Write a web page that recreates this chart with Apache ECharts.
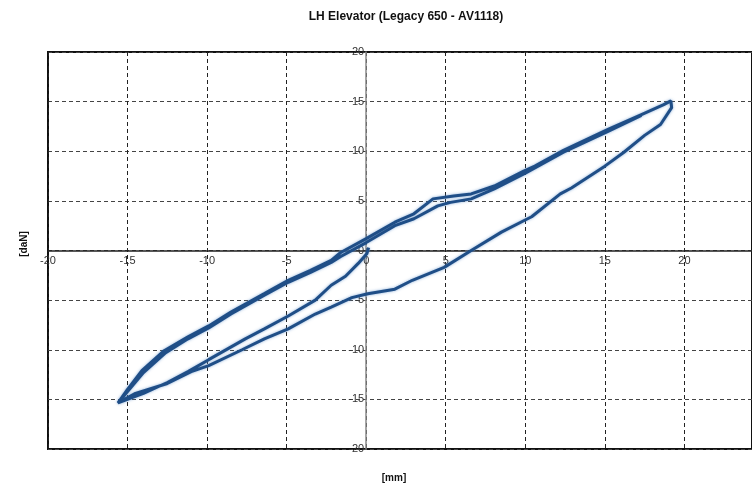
<!DOCTYPE html>
<html>
<head>
<meta charset="utf-8">
<script src="https://cdn.jsdelivr.net/npm/echarts@6/dist/echarts.min.js"></script>
<style>
  html, body { margin: 0; padding: 0; background: #fff; }
  #chart { width: 752px; height: 485px; }
</style>
</head>
<body>
<div id="chart"></div>
<script>
// [mm, daN]
// first move, origin down to the negative end
var startDown = [
  [0.15, 0.3], [0.05, -0.3], [-0.5, -1.3], [-1.3, -2.6], [-2.2, -3.5], [-3.2, -5.0],
  [-4.9, -6.6], [-6.4, -7.9], [-7.6, -8.9], [-9.9, -11.0], [-11.2, -12.2],
  [-12.5, -13.3], [-14.0, -14.4], [-15.6, -15.35]
];
// upper branch, negative end to positive end
var upperPass1 = [
  [-15.6, -15.35], [-15.0, -14.0], [-14.1, -12.1], [-12.7, -10.1], [-11.2, -8.7],
  [-9.9, -7.6], [-8.5, -6.2], [-6.4, -4.35], [-4.9, -3.0], [-3.5, -2.0], [-2.2, -1.0],
  [-1.6, -0.2], [0.0, 1.2], [1.8, 2.85], [3.0, 3.7], [4.2, 5.2], [5.5, 5.5],
  [6.6, 5.7], [8.05, 6.5], [9.9, 8.0], [10.6, 8.5], [12.4, 10.1], [15.2, 12.2],
  [17.3, 13.7], [18.7, 14.7], [19.15, 15.08]
];
// return branch, positive end back to negative end
var lowerReturn = [
  [19.15, 15.08], [19.2, 14.4], [18.5, 12.7], [17.5, 11.6], [16.2, 9.9], [15.0, 8.5],
  [12.9, 6.3], [12.2, 5.7], [10.4, 3.4], [9.9, 3.0], [8.5, 1.85], [6.6, 0.0],
  [4.9, -1.7], [2.9, -3.0], [1.8, -3.9], [0.1, -4.35], [-0.9, -4.75], [-2.2, -5.7],
  [-3.2, -6.4], [-4.9, -7.9], [-6.4, -8.9], [-7.8, -10.0], [-9.9, -11.6],
  [-11.0, -12.2], [-12.5, -13.4], [-14.5, -14.4], [-15.6, -15.35]
];
// second climb on the upper branch
var upperPass2 = [
  [-15.6, -15.35], [-15.0, -14.2], [-14.0, -12.3], [-12.6, -10.3], [-11.2, -8.9],
  [-9.9, -7.8], [-8.5, -6.4], [-6.4, -4.5], [-4.9, -3.2], [-3.5, -2.2], [-2.2, -1.2],
  [-1.6, -0.6], [0.0, 0.8], [1.8, 2.5], [3.0, 3.2], [4.5, 4.5], [5.3, 4.85],
  [6.6, 5.2], [8.05, 6.2], [10.0, 7.8], [12.4, 9.9], [15.2, 12.0], [17.3, 13.6]
];

var xTicks = { min: -20, max: 24.25, step: 5 };
var yTicks = { min: -20, max: 20, step: 5 };

var loop = startDown.concat(upperPass1, lowerReturn, upperPass2);

var myChart = echarts.init(document.getElementById('chart'));
var font = 'Liberation Sans, Arial, sans-serif';

// plot box
var gLeft = 48, gTop = 52, gRight = 0, gBottom = 36;
var gW = 752 - gLeft - gRight, gH = 485 - gTop - gBottom;
// shift the axes so they cross at (0,0), like the original
var xOff = -gH * (0 - yTicks.min) / (yTicks.max - yTicks.min);
var yOff = -gW * (0 - xTicks.min) / (xTicks.max - xTicks.min);

var option = {
  animation: false,
  backgroundColor: '#fff',
  grid: {
    left: gLeft, top: gTop, right: gRight, bottom: gBottom,
    show: true,
    borderColor: '#111',
    borderWidth: 2
  },
  graphic: [
    {
      type: 'text', x: 406, y: 17,
      style: { text: 'LH Elevator (Legacy 650 - AV1118)', font: 'bold 12px ' + font, fill: '#111', align: 'center', verticalAlign: 'middle' }
    },
    {
      type: 'text', x: 394, y: 478,
      style: { text: '[mm]', font: 'bold 10px ' + font, fill: '#111', align: 'center', verticalAlign: 'middle' }
    },
    {
      type: 'text', x: 24, y: 244, rotation: Math.PI / 2,
      style: { text: '[daN]', font: 'bold 10px ' + font, fill: '#111', align: 'center', verticalAlign: 'middle' }
    }
  ],
  xAxis: {
    type: 'value',
    position: 'bottom',
    offset: xOff,
    min: xTicks.min, max: xTicks.max, interval: xTicks.step,
    axisLine: { onZero: false, lineStyle: { color: '#222', width: 1.5 } },
    axisTick: { show: false },
    axisLabel: {
      color: '#333', fontFamily: font, fontSize: 11, margin: 5,
      showMaxLabel: false
    },
    splitLine: { show: true, lineStyle: { color: '#222', type: [4, 3], width: 1 } }
  },
  yAxis: {
    type: 'value',
    position: 'left',
    offset: yOff,
    min: yTicks.min, max: yTicks.max, interval: yTicks.step,
    axisLine: { onZero: false, lineStyle: { color: '#888', width: 1.5 } },
    axisTick: { show: false },
    axisLabel: { color: '#333', fontFamily: font, fontSize: 11, margin: 2 },
    splitLine: { show: true, lineStyle: { color: '#444', type: [4, 3], width: 1 } }
  },
  series: [
    {
      name: 'LH Elevator',
      type: 'line',
      data: loop,
      showSymbol: false,
      symbol: 'none',
      smooth: false,
      lineStyle: {
        color: '#1f4e87',
        width: 3,
        shadowColor: 'rgba(90,140,200,0.7)',
        shadowBlur: 3
      }
    }
  ]
};

myChart.setOption(option);
window.addEventListener('resize', function () {
  myChart.resize();
});
</script>
</body>
</html>
